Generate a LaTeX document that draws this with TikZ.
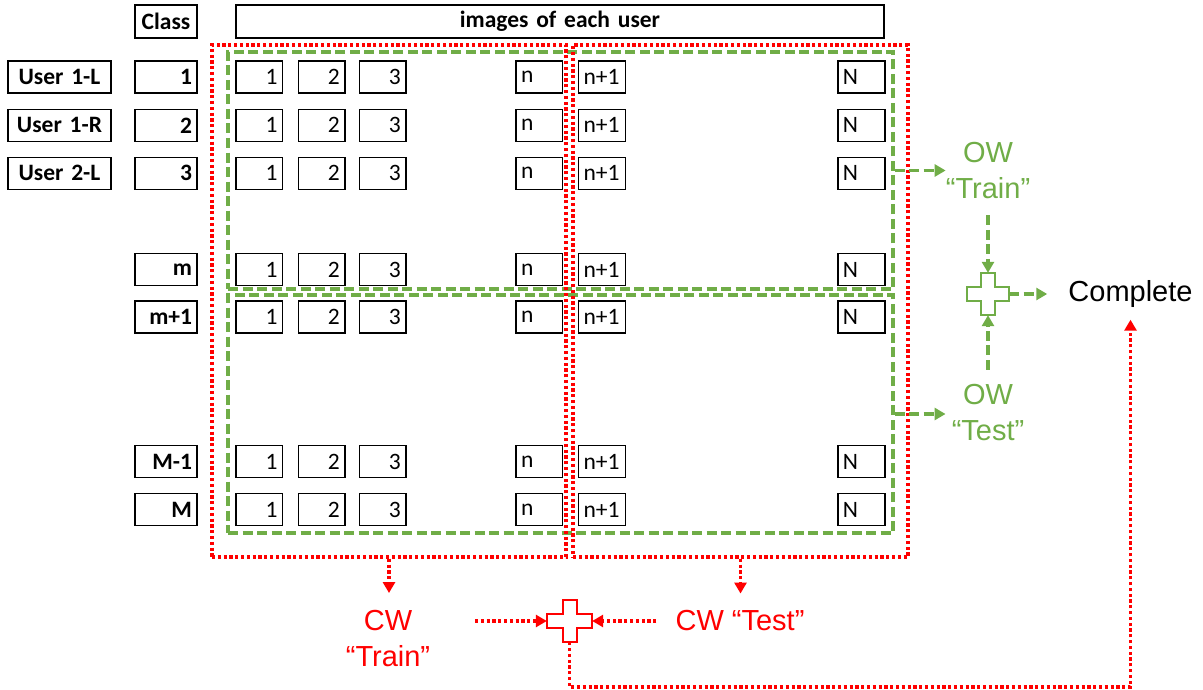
\documentclass[tikz,border=0pt]{standalone}
\usepackage{fontspec}
\setmainfont{Carlito}[WordSpace=0.8]
\newfontfamily\arialf{Liberation Sans}
\usetikzlibrary{arrows.meta}
\definecolor{owgreen}{HTML}{70AD47}
\definecolor{cwred}{HTML}{FF0000}
\tikzset{
  cell/.style={draw, line width=1.5pt, minimum height=32pt, inner xsep=5pt, inner ysep=0pt, font=\fontsize{23.5}{27}\selectfont},
  lbl/.style={cell, font=\fontsize{23.5}{27}\selectfont\bfseries},
  ralign/.style={text width=#1, align=right},
  lalign/.style={text width=#1, align=left},
  calign/.style={text width=#1, align=center},
  reddot/.style={cwred, line width=3.4pt, dash pattern=on 3.2pt off 2.6pt},
  greendash/.style={owgreen, line width=3.2pt, dash pattern=on 10pt off 4.5pt},
  gtip/.style={-{Triangle[length=11pt,width=12pt]}},
  rtip/.style={-{Triangle[length=11pt,width=12pt]}},
  bigtxt/.style={font=\arialf\fontsize{29}{36}\selectfont, align=center, inner sep=0pt},
  frame/.style={draw, inner sep=0pt},
  anchorbox/.style={inner sep=0pt, minimum width=#1},
}
\begin{document}
\begin{tikzpicture}[x=1pt, y=-1pt]
\useasboundingbox (0,0) rectangle (1203,690);

% green dashed frames
\node[frame, greendash, minimum width=665pt, minimum height=237pt] (gtop) at (560.5,170.5) {};
\node[frame, greendash, minimum width=665pt, minimum height=238pt] (gbot) at (560.5,414) {};
% red dotted frames
\node[frame, reddot, minimum width=354pt, minimum height=512pt] (rl) at (389,301) {};
\node[frame, reddot, minimum width=335pt, minimum height=512pt] (rr) at (740.5,301) {};

% headers
\node[lbl, calign=52pt, minimum height=33pt] (hclass) at (166,21.5) {Class};
\node[lbl, calign=638pt, minimum height=33pt] (himg) at (560,21.5) {images of each user};

% user labels
\node[lbl, calign=93pt] (u1) at (59.5,77) {User 1-L};
\node[lbl, calign=93pt] (u2) at (59.5,125.3) {User 1-R};
\node[lbl, calign=93pt] (u3) at (59.5,173.3) {User 2-L};

% rows
\foreach \y/\c/\nm in {77/1/a,125.3/2/b,173.3/3/c,269.5/m/d,317/m+1/e,461.5/M-1/f,509.5/M/g} {
  \node[lbl, ralign=52pt] (cls-\nm) at (166,\y) {\c};
  \node[cell, ralign=36.5pt] (\nm-1) at (259.2,\y) {1};
  \node[cell, ralign=36.5pt] (\nm-2) at (321.6,\y) {2};
  \node[cell, ralign=36.5pt] (\nm-3) at (382.5,\y) {3};
  \node[cell, lalign=36.5pt] (\nm-n) at (539.3,\y) {n};
  \node[cell, lalign=37pt] (\nm-np) at (602,\y) {n+1};
  \node[cell, lalign=37pt] (\nm-N) at (861.4,\y) {N};
}

% OW side
\node[bigtxt, owgreen] (owtrain) at (988,171) {OW\\“Train”};
\node[bigtxt, owgreen] (owtest) at (988,413) {OW\\“Test”};
\node[bigtxt] (complete) at (1130.5,294) {Complete};
\node[anchorbox=42pt, minimum height=42pt] (gplus) at (988,294) {};
\draw[owgreen, line width=2pt, fill=white, shift={(gplus.center)}]
  (-7,-21) -- (7,-21) -- (7,-7) -- (21,-7) -- (21,7) -- (7,7) -- (7,21) -- (-7,21)
  -- (-7,7) -- (-21,7) -- (-21,-7) -- (-7,-7) -- cycle;

\draw[greendash, gtip] (gtop.east) -- (owtrain.west |- gtop.east);
\draw[greendash, gtip, shorten >=6pt] (gbot.east) -- (owtest.west |- gbot.east);
\draw[greendash, gtip, shorten <=16pt] (owtrain.south) -- (gplus.north);
\draw[greendash, gtip] ([yshift=15pt]owtest.north) -- (gplus.south);
\draw[greendash, gtip, shorten >=21pt] (gplus.east) -- (complete.west);

% CW side
\node[bigtxt, cwred] (cwtrain) at (388,638.5) {CW\\“Train”};
\node[bigtxt, cwred] (cwtest) at (740,621) {CW “Test”};
\node[anchorbox=45pt, minimum height=42pt] (rplus) at (569.5,621) {};
\draw[cwred, line width=2pt, fill=white, shift={(rplus.center)}]
  (-7,-21) -- (7,-21) -- (7,-7) -- (22.5,-7) -- (22.5,7) -- (7,7) -- (7,21) -- (-7,21)
  -- (-7,7) -- (-22.5,7) -- (-22.5,-7) -- (-7,-7) -- cycle;

\coordinate (cwjoin) at (475,621);
\coordinate (loopy) at (0,687);
\draw[reddot, rtip, shorten >=17pt] (rl.south) -- (rl.south |- cwtrain.north);
\draw[reddot, rtip, shorten >=17pt] (rr.south) -- (rr.south |- cwtest.north);
\draw[reddot, rtip] (cwjoin) -- (rplus.west);
\draw[reddot, rtip, shorten <=19pt] (cwtest.west) -- (rplus.east);
\draw[reddot, rtip, shorten >=12pt] (rplus.south) |- (complete.south |- loopy) -- (complete.south);
\end{tikzpicture}
\end{document}
